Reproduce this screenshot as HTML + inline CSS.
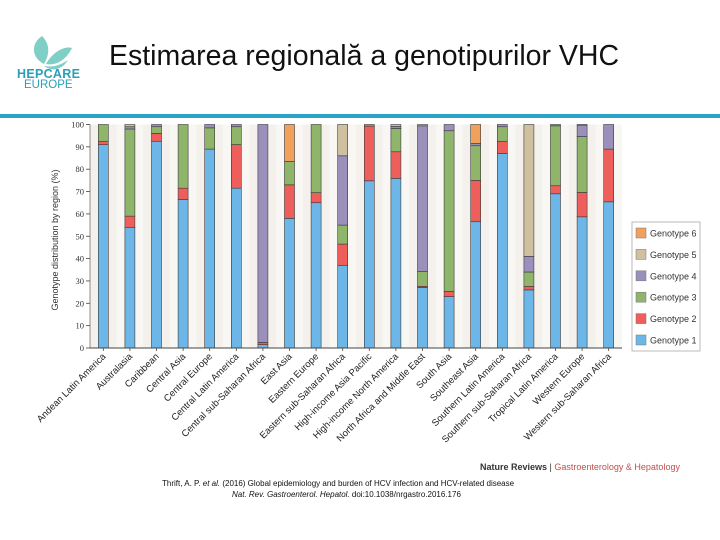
<!DOCTYPE html>
<html><head><meta charset="utf-8">
<style>
body{margin:0;width:720px;height:540px;background:#fff;overflow:hidden;font-family:"Liberation Sans",sans-serif;position:relative}
</style></head>
<body>
<div style="position:absolute;left:14px;top:32px;width:72px;height:60px">
<svg width="72" height="60"><path d="M28 4 C16 12 18 26 30 32 C36 22 36 12 28 4Z M32 32 C40 18 52 14 58 16 C52 28 42 34 32 32Z M30 34 C40 36 48 32 54 28 C48 38 38 40 30 34Z" fill="#7fcfc6"/></svg>
</div>
<div style="position:absolute;left:17px;top:67px;font-size:12.5px;font-weight:bold;color:#2aa0b8;letter-spacing:0.3px">HEPCARE</div>
<div style="position:absolute;left:24px;top:79px;font-size:11.5px;color:#2aa0b8">EUROPE</div>
<div style="position:absolute;left:109px;top:40px;font-size:28.5px;color:#111">Estimarea regională a genotipurilor VHC</div>
<div style="position:absolute;left:0;top:114px;width:720px;height:4px;background:#2aa3c8"></div>
<svg id="chart" width="720" height="540" style="position:absolute;left:0;top:0"></svg>
<div style="position:absolute;left:480px;top:462px;font-size:9px;color:#333"><b>Nature Reviews</b> | <span style="color:#c0504d">Gastroenterology &amp; Hepatology</span></div>
<div style="position:absolute;left:162px;top:479px;font-size:8px;color:#111">Thrift, A. P. <i>et al.</i> (2016) Global epidemiology and burden of HCV infection and HCV-related disease</div>
<div style="position:absolute;left:232px;top:490px;font-size:8px;color:#111"><i>Nat. Rev. Gastroenterol. Hepatol.</i> doi:10.1038/nrgastro.2016.176</div>
<script>
const categories=["Andean Latin America","Australasia","Caribbean","Central Asia","Central Europe","Central Latin America","Central sub-Saharan Africa","East Asia","Eastern Europe","Eastern sub-Saharan Africa","High-income Asia Pacific","High-income North America","North Africa and Middle East","South Asia","Southeast Asia","Southern Latin America","Southern sub-Saharan Africa","Tropical Latin America","Western Europe","Western sub-Saharan Africa"];
const g1=[91,54,92.5,66.5,89,71.5,1.5,58,65,37,74.8,75.9,27.1,23,56.5,87,26,69,58.7,65.4];
const g2=[1.5,5,3.5,5,0,19.5,1,15,4.5,9.5,24.5,11.9,0.5,2.3,18.5,5.5,1.6,3.6,10.9,23.6];
const g3=[7.5,39,3,28.5,9.5,8,0,10.5,30.5,8.5,0.7,10.4,6.7,71.9,15.5,6.5,6.4,26.8,25,0];
const g4=[0,1,1,0,1.5,1,97.5,0,0,31,0,1,65.1,2.8,1,1,7,0.6,5.1,11];
const g5=[0,1,0,0,0,0,0,0,0,14,0,0.8,0.6,0,0,0,59,0,0.3,0];
const g6=[0,0,0,0,0,0,0,16.5,0,0,0,0,0,0,8.5,0,0,0,0,0];
const yTicks=[0,10,20,30,40,50,60,70,80,90,100];
const legendLabels=["Genotype 6","Genotype 5","Genotype 4","Genotype 3","Genotype 2","Genotype 1"];
const series=[g1,g2,g3,g4,g5,g6];
const colors=["#6cb6e8","#ee5f5b","#8fb56a","#9b8fbb","#cfc09f","#f2a15c"];
const NS="http://www.w3.org/2000/svg";
const svg=document.getElementById('chart');
const X0=90,X1=622,Y0=348,Y1=124.5;
const y=v=>Y0-(v/100)*(Y0-Y1);
const step=(X1-X0)/categories.length;
const x=i=>X0+step*(i+0.5);
function mk(t,a){const e=document.createElementNS(NS,t);for(const k in a)e.setAttribute(k,a[k]);svg.appendChild(e);return e;}
let e=mk('rect',{x:X0,y:Y1,width:X1-X0,height:Y0-Y1,fill:'#f4f1ec'});


categories.forEach((c,i)=>{
  if(i%2==0){const b=mk('rect',{x:x(i)+step/2,y:Y1,width:step,height:Y0-Y1,fill:'#f9f7f3'});
  
  }
});
categories.forEach((c,i)=>{
  let acc=0;
  series.forEach((s,k)=>{
    const v=s[i];if(v<=0)return;
    const r=mk('rect',{x:x(i)-5,y:y(acc+v),width:10,height:y(acc)-y(acc+v),fill:colors[k],stroke:'#3a3a3a','stroke-width':0.6});
    
    
    acc+=v;
  });
  const tk=mk('line',{x1:x(i),x2:x(i),y1:Y0,y2:Y0+3,stroke:'#444','stroke-width':0.8});
  
  
  const t=mk('text',{x:x(i)+3,y:Y0+9,'font-size':9.5,'text-anchor':'end',fill:'#222',transform:`rotate(-45 ${x(i)+3} ${Y0+9})`});
  t.textContent=c;
  
  
});
e=mk('line',{x1:X0,x2:X1,y1:Y0,y2:Y0,stroke:'#444','stroke-width':1});


e=mk('line',{x1:X0,x2:X0,y1:Y1,y2:Y0,stroke:'#444','stroke-width':0.6});


yTicks.forEach(v=>{
  const l=mk('line',{x1:X0-4,x2:X0,y1:y(v),y2:y(v),stroke:'#444','stroke-width':0.8});
  
  
  const t=mk('text',{x:X0-6,y:y(v)+3,'font-size':8.5,'text-anchor':'end',fill:'#333','font-family':'Liberation Serif'});
  t.textContent=v;
  
  
});
e=mk('text',{x:58,y:240,'font-size':9,'text-anchor':'middle',fill:'#333',transform:'rotate(-90 58 240)'});
e.textContent='Genotype distribution by region (%)';


e=mk('rect',{x:632,y:222,width:68,height:129,fill:'#fff',stroke:'#aaa','stroke-width':0.8});


legendLabels.forEach((l,j)=>{
  const cy=233+j*21.4;
  const r=mk('rect',{x:636,y:cy-5,width:10,height:10,fill:colors[5-j],stroke:'#777','stroke-width':0.5});
  
  
  const t=mk('text',{x:650,y:cy+3.5,'font-size':9,fill:'#333'});
  t.textContent=l;
  
  
});
</script>
</body></html>
